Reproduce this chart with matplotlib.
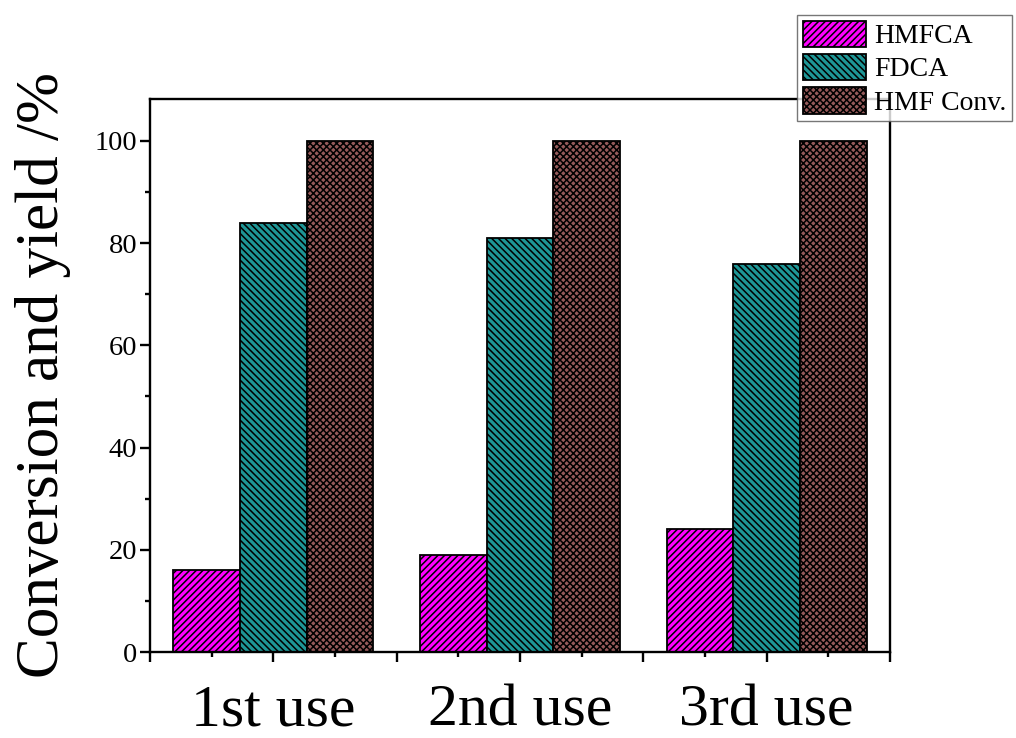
import matplotlib
matplotlib.use("Agg")
import matplotlib.pyplot as plt
from matplotlib.ticker import MultipleLocator
import numpy as np

plt.rcParams['font.family'] = ['Liberation Serif', 'DejaVu Serif']
plt.rcParams['hatch.linewidth'] = 1.1

groups = ['1st use', '2nd use', '3rd use']
series = ['HMFCA', 'FDCA', 'HMF Conv.']
hmfca = [16, 19, 24]
fdca = [84, 81, 76]
hmf_conv = [100, 100, 100]

colors = ['#FF00FF', '#1E9696', '#955A5A']
hatches = ['/////', '\\\\\\\\\\', 'xxxxx']

fig = plt.figure(figsize=(10.16, 7.38), dpi=100)
ax = fig.add_axes([0.1476, 0.1165, 0.876 - 0.1476, 0.8659 - 0.1165])

centers = np.array([1, 3, 5])
w = 0.54
for i, (vals, name) in enumerate(zip([hmfca, fdca, hmf_conv], series)):
    ax.bar(centers + (i - 1) * w, vals, width=w, color=colors[i], edgecolor='black',
           hatch=hatches[i], linewidth=1.3, label=name)

ax.set_xlim(0, 6)
ax.set_ylim(0, 108.2)
ax.set_xticks(np.arange(0, 7, 1))
ax.set_xticklabels(['', groups[0], '', groups[1], '', groups[2], ''], fontsize=43)
ax.xaxis.set_minor_locator(MultipleLocator(0.5))
ax.set_yticks(np.arange(0, 101, 20))
ax.yaxis.set_minor_locator(MultipleLocator(10))
ax.tick_params(axis='y', which='major', labelsize=20.5, length=7.2, width=1.7, pad=2)
ax.tick_params(axis='x', which='major', length=7.2, width=1.7, pad=16)
ax.tick_params(which='minor', length=3.6, width=1.7)
for s in ax.spines.values():
    s.set_linewidth(1.7)

ax.set_ylabel('Conversion and yield /%', fontsize=44, labelpad=17)

leg = fig.legend(loc='upper left', bbox_to_anchor=(0.7844, 0.9797), bbox_transform=fig.transFigure,
                 borderaxespad=0, fontsize=20, frameon=True, fancybox=False,
                 handlelength=2.27, handleheight=1.08, labelspacing=0.17,
                 borderpad=0.2, handletextpad=0.3)
leg.get_frame().set_edgecolor('#555555')
leg.get_frame().set_linewidth(1.0)

fig.savefig('out.png', dpi=100)
